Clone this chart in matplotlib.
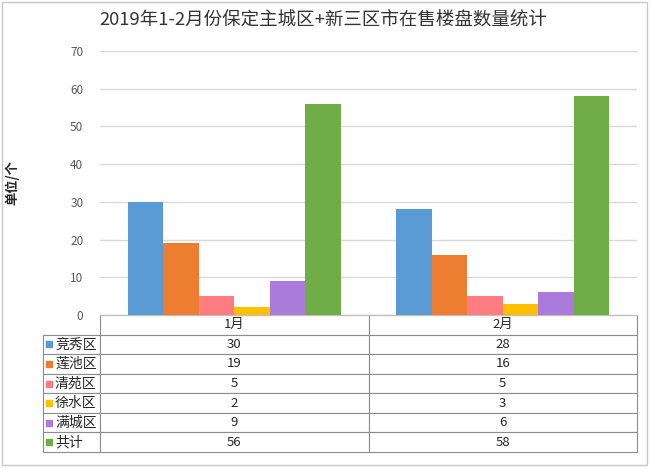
import numpy as np
import matplotlib
matplotlib.use("Agg")
import matplotlib.pyplot as plt
from matplotlib.patches import Rectangle

plt.rcParams['font.family'] = ['Noto Sans CJK SC', 'DejaVu Sans']

# 数据
months = ["1月", "2月"]
districts = ["竞秀区", "莲池区", "清苑区", "徐水区", "满城区", "共计"]
counts = [
    [30, 28],   # 竞秀区
    [19, 16],   # 莲池区
    [5, 5],     # 清苑区
    [2, 3],     # 徐水区
    [9, 6],     # 满城区
    [56, 58],   # 共计
]
colors = ["#5B9BD5", "#ED7D31", "#FF7C80", "#FFC000", "#AB7BDB", "#70AD47"]
yticks = [0, 10, 20, 30, 40, 50, 60, 70]

W, H = 650, 469
fig = plt.figure(figsize=(W / 100, H / 100), dpi=100)
fig.patch.set_facecolor("white")

# 绘图区（像素位置换算）
left, right, top, bottom = 100, 637, 51, 315
ax = fig.add_axes([left / W, 1 - bottom / H, (right - left) / W, (bottom - top) / H])

n = len(districts)
bar_w = 0.132
x = np.arange(len(months))
for i, (name, vals) in enumerate(zip(districts, counts)):
    offset = (i - (n - 1) / 2) * bar_w
    ax.bar(x + offset, vals, width=bar_w, color=colors[i], zorder=3)

ax.set_xlim(-0.5, len(months) - 0.5)
ax.set_ylim(0, 70)
ax.set_yticks(yticks)
ax.yaxis.grid(True, color="#d9d9d9", linewidth=1, zorder=0)
ax.set_xticks([])
for s in ["top", "right", "left"]:
    ax.spines[s].set_visible(False)
ax.spines["bottom"].set_color("#bfbfbf")
ax.tick_params(axis="y", length=0, labelsize=8.5, labelcolor="#595959", pad=12)

# 标题和单位
fig.text(323 / W, 1 - 21 / H, "2019年1-2月份保定主城区+新三区市在售楼盘数量统计",
         ha="center", va="center", fontsize=13.3, color="#333333")
fig.text(12 / W, 1 - 183 / H, "单位/个", rotation=90, ha="center", va="center",
         fontsize=9.5, fontweight="bold", color="#262626")

# 数据表
ax_h = bottom - top
ax_w = right - left
lab_left = 43
tbl_left = (lab_left - left) / ax_w
tbl_bottom = -(452 - bottom) / ax_h
cell_text = [[d] + [str(v) for v in row] for d, row in zip(districts, counts)]
col_w = [left - lab_left, ax_w / 2, ax_w / 2]
tbl = ax.table(cellText=cell_text, colLabels=[""] + months, colWidths=col_w,
               cellLoc="center",
               bbox=[tbl_left, tbl_bottom, 1 - tbl_left, -tbl_bottom])
tbl.auto_set_font_size(False)
tbl.set_fontsize(9.5)
for (r, c), cell in tbl.get_celld().items():
    cell.set_edgecolor("#8c8c8c")
    cell.set_linewidth(0.8)
    cell.get_text().set_color("#262626")
    if c == 0:
        if r == 0:
            cell.visible_edges = ""
        else:
            cell.get_text().set_ha("left")
            cell.get_text().set_fontsize(10)
            cell._loc = "left"
            cell.PAD = 0.21

# 行标签中的颜色方块
nrows = n + 1
row_h = -tbl_bottom / nrows
for i, col in enumerate(colors):
    yc = -row_h * (i + 1.5)
    ax.scatter([(49 - left) / ax_w], [yc], marker="s", s=24, color=col,
               transform=ax.transAxes, clip_on=False, zorder=5)

# 外框
fig.patches.append(Rectangle((2 / W, 4 / H), 645 / W, 463 / H, transform=fig.transFigure,
                             fill=False, edgecolor="#c8c8c8", linewidth=1))

fig.savefig("out.png", dpi=100, facecolor="white")
